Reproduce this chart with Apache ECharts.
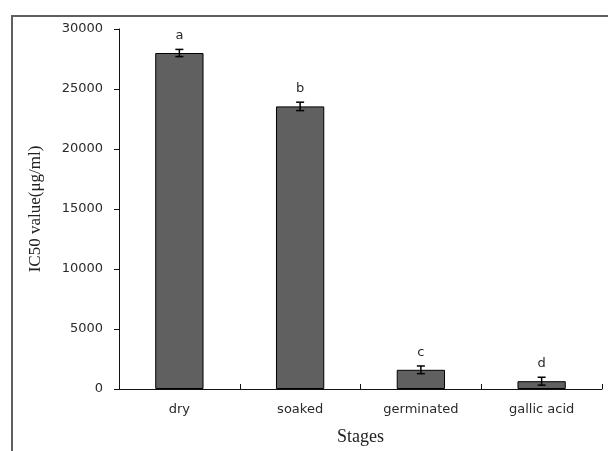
<!DOCTYPE html>
<html>
<head>
<meta charset="utf-8">
<script src="https://cdn.jsdelivr.net/npm/echarts@6/dist/echarts.min.js"></script>
<style>
  html, body { margin: 0; padding: 0; background: #fff; }
  #chart { width: 608px; height: 451px; }
</style>
</head>
<body>
<div id="chart"></div>
<script>
// IC50 by processing stage, mean ± error with significance letters
const categories = ['dry', 'soaked', 'germinated', 'gallic acid'];
const ic50Values = [28000, 23550, 1600, 650];
const ic50Errors = [300, 350, 320, 330];
const groupLetters = ['a', 'b', 'c', 'd'];
const yTicks = { min: 0, max: 30000, step: 5000 };

const sansFont = '"DejaVu Sans", Verdana, sans-serif';
const serifFont = '"Liberation Serif", "Times New Roman", serif';

const errorData = categories.map((c, i) => [i, ic50Values[i], ic50Errors[i], groupLetters[i]]);

const chart = echarts.init(document.getElementById('chart'), null, { renderer: 'canvas' });

chart.setOption({
  animation: false,
  backgroundColor: '#fff',
  graphic: [{
    type: 'rect',
    shape: { x: 12, y: 16, width: 700, height: 600 },
    style: { fill: 'none', stroke: '#5f5f5f', lineWidth: 2 },
    silent: true,
    z: -1
  }],
  grid: { left: 119, right: 6, top: 29, bottom: 61 },
  xAxis: {
    type: 'category',
    data: categories,
    boundaryGap: true,
    name: 'Stages',
    nameLocation: 'middle',
    nameGap: 39,
    nameTextStyle: { fontFamily: serifFont, fontSize: 18, color: '#222' },
    axisLine: { show: true, lineStyle: { color: '#111', width: 1 } },
    axisTick: { show: true, inside: true, length: 5, lineStyle: { color: '#111' } },
    axisLabel: { margin: 14, fontFamily: sansFont, fontSize: 13, color: '#2a2a2a' },
    splitLine: { show: false }
  },
  yAxis: {
    type: 'value',
    min: yTicks.min,
    max: yTicks.max,
    interval: yTicks.step,
    name: 'IC50 value(μg/ml)',
    nameLocation: 'middle',
    nameGap: 75,
    nameTextStyle: { fontFamily: serifFont, fontSize: 17, color: '#222' },
    axisLine: { show: true, lineStyle: { color: '#111', width: 1 } },
    axisTick: { show: true, inside: false, length: 5, lineStyle: { color: '#111' } },
    axisLabel: {
      margin: 16, fontFamily: sansFont, fontSize: 13, color: '#2a2a2a',
      formatter: function (v) { return String(v); }
    },
    splitLine: { show: false }
  },
  series: [
    {
      type: 'bar',
      data: ic50Values,
      barWidth: '40%',
      itemStyle: { color: '#606060', borderColor: '#000', borderWidth: 1 },
      z: 2
    },
    {
      type: 'custom',
      data: errorData,
      z: 3,
      renderItem: function (params, api) {
        const idx = api.value(0);
        const mean = api.value(1);
        const err = api.value(2);
        const top = api.coord([idx, mean + err]);
        const bot = api.coord([idx, mean - err]);
        const half = 4;
        const lineStyle = { stroke: '#000', lineWidth: 1.5 };
        return {
          type: 'group',
          children: [
            { type: 'line', shape: { x1: top[0], y1: top[1], x2: bot[0], y2: bot[1] }, style: lineStyle },
            { type: 'line', shape: { x1: top[0] - half, y1: top[1], x2: top[0] + half, y2: top[1] }, style: lineStyle },
            { type: 'line', shape: { x1: bot[0] - half, y1: bot[1], x2: bot[0] + half, y2: bot[1] }, style: lineStyle },
            {
              type: 'text',
              x: top[0], y: top[1] - 7,
              style: {
                text: errorData[params.dataIndex][3],
                fontFamily: sansFont, fontSize: 13, fill: '#2a2a2a',
                align: 'center', verticalAlign: 'bottom'
              }
            }
          ]
        };
      }
    }
  ]
});
</script>
</body>
</html>
